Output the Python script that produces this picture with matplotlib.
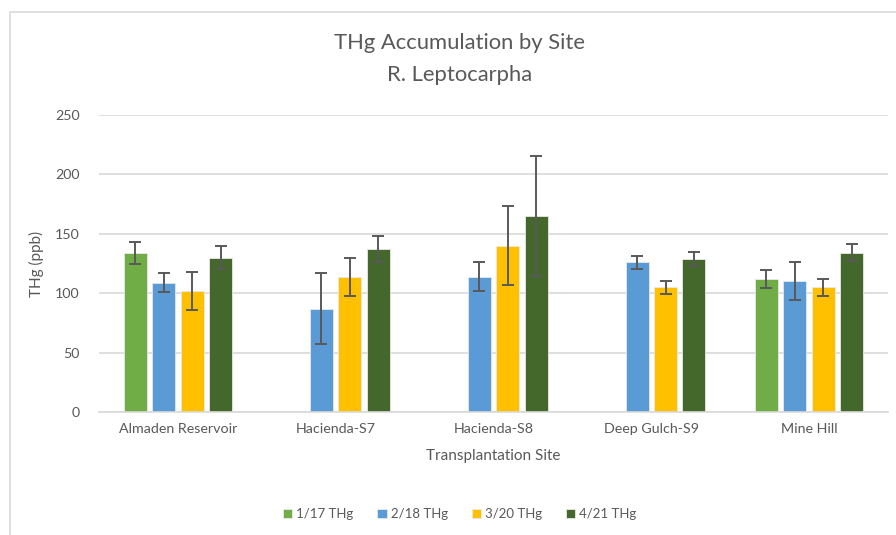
import numpy as np
import matplotlib.pyplot as plt
from matplotlib.patches import Rectangle

plt.rcParams['font.family'] = ['Lato', 'DejaVu Sans']

sites = ["Almaden Reservoir", "Hacienda-S7", "Hacienda-S8", "Deep Gulch-S9", "Mine Hill"]
series = ["1/17 THg", "2/18 THg", "3/20 THg", "4/21 THg"]
colors = ["#70AD47", "#5B9BD5", "#FFC000", "#44682C"]

thg_jan = [134, np.nan, np.nan, np.nan, 112]
thg_feb = [109, 87, 114, 126, 110]
thg_mar = [102, 114, 140, 105, 105]
thg_apr = [130, 137, 165, 129, 134]

err_jan = [9, 0, 0, 0, 7.5]
err_feb = [8, 30, 12.5, 5.5, 16]
err_mar = [16, 16, 33.5, 5.5, 7]
err_apr = [10, 11, 50.5, 6, 7]

values = [thg_jan, thg_feb, thg_mar, thg_apr]
errors = [err_jan, err_feb, err_mar, err_apr]

grey = "#595959"

fig = plt.figure(figsize=(8.96, 5.35), dpi=100)
fig.patches.append(Rectangle((10 / 896, -0.1), 1.2, 1 - 12 / 535 + 0.1,
                             transform=fig.transFigure, fill=False,
                             edgecolor="#D9D9D9", lw=1.2))
ax = fig.add_axes([99 / 896, 123 / 535, 789 / 896, 297 / 535])

x = np.arange(len(sites))
pitch = 0.18
width = 0.145
for i, (vals, errs) in enumerate(zip(values, errors)):
    pos = x + (i - 1.5) * pitch
    ax.bar(pos, vals, width, color=colors[i], label=series[i],
           edgecolor="#E8E8E8", linewidth=0.6, zorder=2)
    v = np.array(vals, dtype=float)
    ok = ~np.isnan(v)
    ax.errorbar(pos[ok], v[ok], yerr=np.array(errs)[ok], fmt="none",
                ecolor=grey, elinewidth=1.4, capsize=4, capthick=1.4, zorder=3)

ax.set_xlim(-0.5, len(sites) - 0.5)
ax.set_ylim(0, 250)
ax.set_yticks(range(0, 251, 50))
ax.set_xticks(x)
ax.set_xticklabels(sites)
ax.yaxis.grid(True, color="#D9D9D9", lw=1.2, zorder=0)
ax.set_axisbelow(True)
for s in ["top", "right", "left"]:
    ax.spines[s].set_visible(False)
ax.spines["bottom"].set_color("#D9D9D9")
ax.spines["bottom"].set_linewidth(1.2)
ax.tick_params(length=0, colors=grey, labelsize=10.3, pad=8)
ax.tick_params(axis="y", pad=14)
ax.set_xlabel("Transplantation Site", fontsize=11, color=grey, labelpad=10)
ax.set_ylabel("THg (ppb)", fontsize=11, color=grey, labelpad=8)

fig.text(0.513, 1 - 43 / 535, "THg Accumulation by Site", ha="center", va="center",
         fontsize=15.8, color=grey)
fig.text(0.513, 1 - 75 / 535, "R. Leptocarpha", ha="center", va="center",
         fontsize=15.8, color=grey)

fig.legend(loc="center", bbox_to_anchor=(0.513, 1 - 514 / 535), ncol=4, frameon=False,
           fontsize=9.5, handlelength=0.7, handleheight=0.7, handletextpad=0.3,
           columnspacing=1.8, labelcolor=grey)

fig.savefig("out.png", dpi=100)
